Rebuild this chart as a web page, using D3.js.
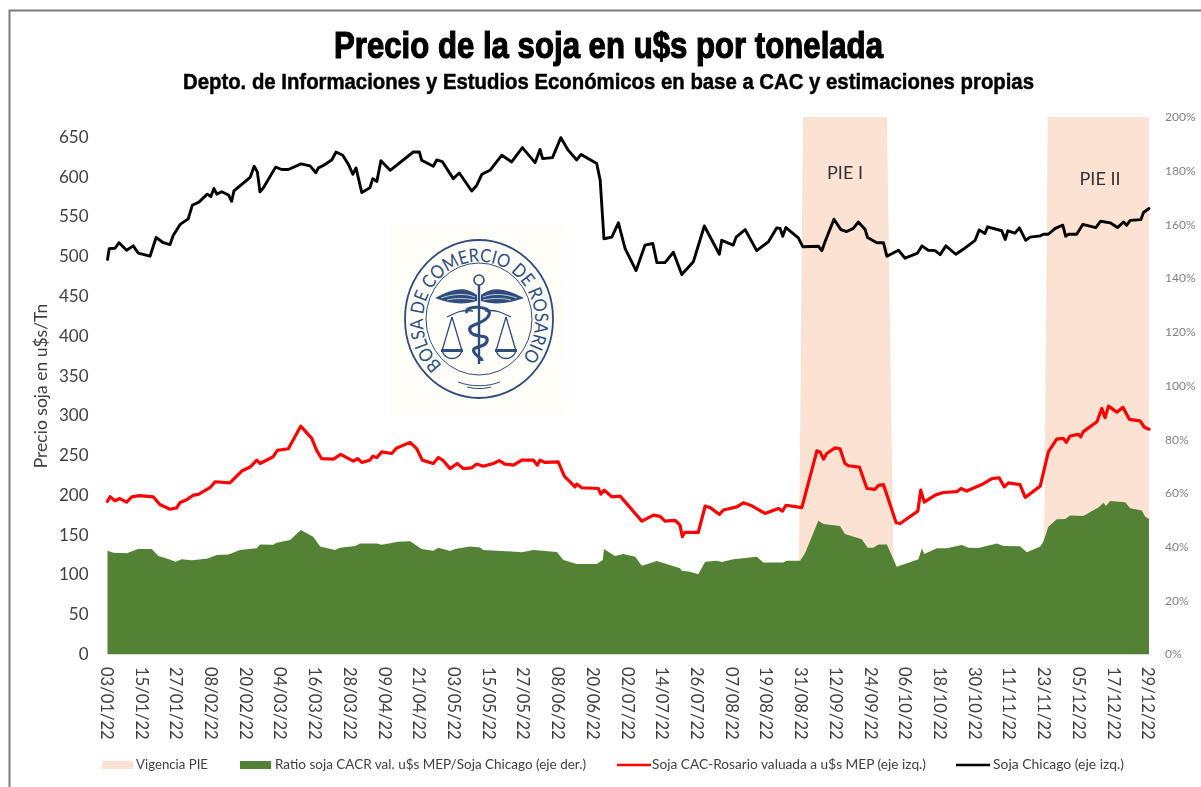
<!DOCTYPE html>
<html lang="es">
<head>
<meta charset="utf-8">
<title>Precio de la soja</title>
<script src="https://cdn.jsdelivr.net/npm/d3@7"></script>
<style>
  html, body { margin: 0; padding: 0; background: #ffffff; }
  svg { display: block; filter: blur(0.45px); }
  text { font-family: Lato, "Open Sans", sans-serif; }
  .titulo { font-family: "Liberation Sans Narrow", "Liberation Sans", sans-serif; font-weight: bold; fill: #000000; stroke: #000000; }
  .eje-izq text, .eje-fecha text { fill: #404040; }
  .eje-der text { fill: #808080; }
  .leyenda text { fill: #404040; font-size: 12.5px; }
</style>
</head>
<body>
<svg id="chart"></svg>
<script>
// etiquetas de los ejes
var fechasEje = ["03/01/22","15/01/22","27/01/22","08/02/22","20/02/22","04/03/22","16/03/22","28/03/22","09/04/22","21/04/22","03/05/22","15/05/22","27/05/22","08/06/22","20/06/22","02/07/22","14/07/22","26/07/22","07/08/22","19/08/22","31/08/22","12/09/22","24/09/22","06/10/22","18/10/22","30/10/22","11/11/22","23/11/22","05/12/22","17/12/22","29/12/22"];
var ticksPrecio = [0,50,100,150,200,250,300,350,400,450,500,550,600,650];
var ticksRatio = [0,20,40,60,80,100,120,140,160,180,200];

// series: dias desde 03/01/22 y valor
var chicagoDias = [0,0.6,2.6,4,6.6,8.9,10.6,14.7,16.8,19.3,21.6,22.7,25.1,27.9,29.3,31.6,34.5,35.7,36.8,37.8,39.5,41.8,42.9,43.7,49.3,50.7,51.8,52.7,53.9,58.1,60.2,62.5,66.9,70,72,72.9,74.6,77.5,79,81.3,83.2,84.8,85.9,87.9,90.7,91.7,93.1,94.5,97.7,105.7,107.8,108.6,112.6,113.8,115.7,119.5,121.6,125.9,127.6,129.4,132.2,136.3,139.7,143.4,147.8,149.5,150.4,153.8,156.7,159.3,162.2,163.7,169.1,170.3,171.6,174.3,176.6,178.9,182.7,185.8,188.5,189.9,192.7,195.6,198.5,202.5,206.3,211.5,212.3,216.3,217.3,220.4,224.4,228.4,231.3,232.5,233.4,234.5,238.8,240.3,245.7,246.9,248,251.1,253.5,255.5,257.8,259.5,261.9,262.7,265.9,268.2,269.4,273.4,275.7,280,281.5,283.7,286.1,287.8,289.8,293.2,295.9,299.9,301.3,303.3,304.2,309.1,310.3,311.2,313.7,315.2,317.4,318.9,322.4,323.5,325.2,327.6,330.2,331.2,332.1,335,337.1,341.6,343.3,346.6,349.1,351.2,352.3,353.5,357.2,358.1,360];
var chicagoValor = [496,509.5,510,517,507.5,513,504,500,523.5,517,514.6,526,540,547,564,568,578,575,585,578,581,577,569,582,599,613,606,581,586,612,609,609,616,613.5,605,611,614,621,631,627,616,603,611,580,586,597.5,594,620,608,631,631,620.6,613,621,619,597.5,604.6,582,589,603,608,627,618.5,636.5,617.7,634,622.7,624,649,633,621,628,616.4,595.5,522,524,542,509.7,482,514,516,492,492,505,477,493,538,502.5,520,514,524,533.5,507,518,535.6,535,525,536,523,512,512.6,507,518,546.5,533.5,531,535,543,533.5,523.5,517,517,500,507.5,497.5,504,513,507.5,507,502,513,502.5,509,520,533,528.6,537,532,521,532,529,535.6,520,524,525.6,527.6,527.6,535,539,525,527.6,527.6,540,536,544,542,536,543,539,545,546,555,560];

var cacDias = [0,0.9,2.6,4.3,6.6,8.4,11.2,15.8,18.1,21.6,23.9,25.1,27.4,29.7,31.4,35.4,37.2,42.3,46.4,49.3,51.6,52.7,57.3,58.7,62.5,66.8,70.6,72.3,74,78.1,80.6,85,86.5,87.9,90.7,91.7,93.1,94.8,98.2,100,104.6,106.9,108.8,112.6,114.4,116.1,118.4,120.9,123,125.9,127.6,129.9,133.4,135.4,137.4,140.3,143.2,147.2,148.6,149.5,151.2,155.8,157.9,161.6,162.2,163.9,169.7,170.5,171.7,174.3,177.2,184.7,188.7,191,192.7,196.2,197.9,198.7,199.6,204.2,206.6,208.3,211.5,212.9,217.5,219.8,222.7,227.3,231.9,233.3,234.5,240,245.2,246.3,247.5,248.6,251.5,253.2,254.9,256.1,259.9,262.5,265.3,266.5,268.2,272.6,274,280.1,281.1,282.3,286.1,288.9,293.6,295,297,302.2,305.7,308.2,310,311.4,315.4,317.2,322.4,325.2,328.1,330.4,331.4,332.7,335.6,336.4,337.3,342,343.7,344.8,346,348.9,351,353.2,356.9,358.4,360];
var cacValor = [192,197.6,192.6,195.4,191,197.6,199,197.6,188,182,183.6,190.5,194,199.7,200.6,209,216.5,215,230,235,243.7,239.5,248,256,258,286.4,271,256,245.6,245,251,242.4,245.6,240.8,243.7,248.7,247,254,252,259,266,258,243.7,239.5,247,243,233,239.5,233,234,238.7,236,239.5,243,238.7,237.4,243.7,243.7,237.4,243.7,240.8,241.6,223.6,210,213.6,209,208,201,206,197.6,198.5,167,174.6,173,167,168,162,147.4,153,153,186,184,175.5,181,185,190,186.3,176.7,183,179.6,187,184,255.4,254,245,252,259,258,239.5,236.6,235,208,207,212,213,165,164,179.6,206,191,199.7,203,204,208,204.8,213,220.5,221.5,210,215,213,196.8,211,254,270,271,266,274,276,273,279.5,292,308.6,297,311.6,304,310,295,293,285,282.6];

var ratioDias = [0,2,6.6,10.6,15.3,17.6,20.5,23.6,25.6,29.1,34.3,37.8,41.8,45.8,51.6,52.7,57.3,58.5,63.1,66.8,71.1,73.5,78.6,80.4,85.6,87.3,93.1,94.8,100.5,104.6,108.6,112.6,114.4,118.4,120.1,125.3,128.8,129.9,136.3,143.2,147.2,155.3,157.6,162.2,169.1,171.2,171.6,175.4,178.3,182.4,184.7,189.9,197.9,198.5,201.4,204.2,206.6,210.6,212.3,216.3,224.4,226.7,233.6,234.8,239.4,241.1,245.7,247.5,253.2,254.9,260.7,262.8,264.7,266.5,269.4,272.8,280.3,281.5,282.3,286.7,290.1,295.3,297.6,301,307.4,309.7,315.4,317.8,322.4,323.5,325.2,328.1,331,332.7,337.3,342.5,344.3,345.1,346.6,351.8,353.5,357.5,358.7,360];
var ratioValor = [38.5,37.7,37.5,39.1,39.1,36.5,35.6,34.4,35.3,34.9,35.5,36.9,37.1,38.7,39.4,40.8,40.7,41.4,42.5,46.2,43.7,40,38.7,39.6,40.2,41.2,41.2,40.7,41.8,42,39.1,38.5,39.6,38.4,39.1,40,39.7,38.7,38.4,37.9,38.7,38,35,33.5,33.5,35,39.1,36.5,37.2,36.2,32.9,34.6,31.9,31,30.6,29.7,34.4,34.7,34.3,35.3,36.2,34.1,34.1,34.7,34.7,37.5,49.6,48.4,47.7,44.7,42.7,39.6,39.6,40.8,40.8,32.5,35.3,39.4,37.2,39.4,39.4,40.6,39.6,39.5,41.2,40.2,40.1,37.9,40,41.8,47.4,50.2,50.3,51.6,51.4,54.6,56.3,55.1,57,56.5,54.3,53.4,51.1,50.3];

// vigencia de los PIE, sobre el eje derecho
var pieDias = [238.7,240.4,269.4,272.2,323.4,325,360,360];
var pieValor = [0,200,200,0,0,200,200,0];
var pieTramos = [[0,4],[4,8]];

var width = 1201, height = 787;
var margin = {top: 117, right: 52, bottom: 133, left: 107.5};

var svg = d3.select("#chart").attr("width", width).attr("height", height);

var parseFecha = d3.timeParse("%d/%m/%y");
var inicio = parseFecha(fechasEje[0]);
function fechaDe(dia) { return new Date(+inicio + dia * 864e5); }

var x = d3.scaleTime()
    .domain([inicio, parseFecha(fechasEje[fechasEje.length - 1])])
    .range([margin.left, width - margin.right]);
var yPrecio = d3.scaleLinear().domain([0, 675]).range([height - margin.bottom, margin.top]);
var yRatio = d3.scaleLinear().domain([0, 200]).range([height - margin.bottom, margin.top]);

// marco de la imagen
svg.append("path")
    .attr("d", "M9.5," + height + "V10.5H" + width)
    .attr("fill", "none").attr("stroke", "#7a7a7a").attr("stroke-width", 2);

// titulos
svg.append("text").attr("class", "titulo")
    .attr("x", 334).attr("y", 58).attr("font-size", 37).attr("stroke-width", 1.2)
    .attr("textLength", 549).attr("lengthAdjust", "spacingAndGlyphs")
    .text("Precio de la soja en u$s por tonelada");
svg.append("text").attr("class", "titulo")
    .attr("x", 183).attr("y", 89).attr("font-size", 22.5).attr("stroke-width", 0.5)
    .attr("textLength", 851).attr("lengthAdjust", "spacingAndGlyphs")
    .text("Depto. de Informaciones y Estudios Económicos en base a CAC y estimaciones propias");

// franjas PIE
var areaPie = d3.area()
    .x(function(d) { return x(fechaDe(d[0])); })
    .y0(yRatio(0))
    .y1(function(d) { return yRatio(d[1]); });
pieTramos.forEach(function(t) {
    var tramo = d3.range(t[0], t[1]).map(function(i) { return [pieDias[i], pieValor[i]]; });
    svg.append("path").attr("d", areaPie(tramo)).attr("fill", "#fbe2d3");
});

// area del ratio
var areaRatio = d3.area()
    .x(function(d) { return x(fechaDe(d)); })
    .y0(yRatio(0))
    .y1(function(d, i) { return yRatio(ratioValor[i]); });
svg.append("path").attr("d", areaRatio(ratioDias)).attr("fill", "#548235");

// lineas
function dibujarLinea(dias, valores, color, grosor) {
    var linea = d3.line()
        .x(function(d) { return x(fechaDe(d)); })
        .y(function(d, i) { return yPrecio(valores[i]); });
    svg.append("path").attr("d", linea(dias))
        .attr("fill", "none").attr("stroke", color).attr("stroke-width", grosor)
        .attr("stroke-linejoin", "round").attr("stroke-linecap", "round");
}
dibujarLinea(cacDias, cacValor, "#ff0000", 3.2);
dibujarLinea(chicagoDias, chicagoValor, "#000000", 2.9);

// ejes
var ejeIzq = svg.append("g").attr("class", "eje-izq")
    .attr("transform", "translate(" + (margin.left - 9) + ",0)")
    .call(d3.axisLeft(yPrecio).tickValues(ticksPrecio).tickSize(0).tickPadding(10));
ejeIzq.select(".domain").remove();
ejeIzq.selectAll("text").style("font-size", "17px");

var ejeDer = svg.append("g").attr("class", "eje-der")
    .attr("transform", "translate(" + (width - margin.right + 6) + ",0)")
    .call(d3.axisRight(yRatio).tickValues(ticksRatio).tickSize(0).tickPadding(10)
        .tickFormat(function(d) { return d + "%"; }));
ejeDer.select(".domain").remove();
ejeDer.selectAll("text").style("font-size", "12px");

var ejeFecha = svg.append("g").attr("class", "eje-fecha")
    .attr("transform", "translate(0," + yPrecio(0) + ")")
    .call(d3.axisBottom(x).tickValues(fechasEje.map(parseFecha)).tickSize(0)
        .tickFormat(d3.timeFormat("%d/%m/%y")));
ejeFecha.select(".domain").attr("stroke", "#d9d9d9");
ejeFecha.selectAll("text")
    .style("font-size", "16.6px")
    .style("text-anchor", "start")
    .attr("dy", null)
    .attr("y", 0)
    .attr("x", 0)
    .attr("dominant-baseline", "middle")
    .attr("transform", "translate(-3,13) rotate(90)");

// titulo eje y
svg.append("text")
    .attr("transform", "translate(47,386) rotate(-90)")
    .style("text-anchor", "middle").style("font-size", "17.5px").attr("fill", "#404040")
    .text("Precio soja en u$s/Tn");

// rotulos PIE
svg.append("text").attr("x", 845).attr("y", 179).style("text-anchor", "middle")
    .style("font-size", "18px").attr("fill", "#333333").text("PIE I");
svg.append("text").attr("x", 1100).attr("y", 185).style("text-anchor", "middle")
    .style("font-size", "18px").attr("fill", "#333333").text("PIE II");

// logo
var azul = "#2f4d7c";
var logo = svg.append("g").attr("transform", "translate(479,319)");
logo.append("rect").attr("x", -89).attr("y", -94).attr("width", 175).attr("height", 190).attr("fill", "#fffdf8");
logo.append("ellipse").attr("rx", 74).attr("ry", 79).attr("fill", "none").attr("stroke", azul).attr("stroke-width", 1.8);
logo.append("ellipse").attr("rx", 53).attr("ry", 56).attr("fill", "none").attr("stroke", azul).attr("stroke-width", 1);
logo.append("path").attr("id", "aroLogo").attr("d", "M-37,46A56,59 0 1 1 37,46").attr("fill", "none");
logo.append("text").attr("fill", azul).style("font-size", "18.5px")
  .append("textPath").attr("href", "#aroLogo")
    .attr("textLength", 270).attr("lengthAdjust", "spacingAndGlyphs")
    .text("BOLSA DE COMERCIO DE ROSARIO");
// alas
logo.append("path").attr("fill", azul)
    .attr("d", "M-2,-24C-14,-34 -28,-30 -44,-21C-30,-15 -14,-14 -2,-18ZM2,-24C14,-34 28,-30 45,-21C30,-15 14,-14 2,-18Z");
logo.append("path").attr("fill", "none").attr("stroke", "#fffdf8").attr("stroke-width", 0.7)
    .attr("d", "M-4,-22C-14,-26 -26,-25 -38,-21M-4,-19C-14,-21 -24,-21 -32,-19M4,-22C14,-26 26,-25 38,-21M4,-19C14,-21 24,-21 32,-19");
// baston y perilla
logo.append("path").attr("fill", "none").attr("stroke", azul).attr("stroke-width", 2.4).attr("d", "M0,-34V45");
logo.append("circle").attr("cy", -39).attr("r", 5).attr("fill", "none").attr("stroke", azul).attr("stroke-width", 1.6);
// balanza y serpiente
logo.append("path").attr("fill", "none").attr("stroke", azul).attr("stroke-width", 1.3)
    .attr("d", "M-32,-2C-24,-6 -16,-10 -6,-8M32,-2C24,-6 16,-10 6,-8M-27,-2L-37,32M-27,-2L-17,32M27,-2L37,32M27,-2L17,32M-37,32C-33,42 -21,42 -17,32M37,32C33,42 21,42 17,32");
logo.append("path").attr("fill", azul).attr("d", "M-38,30H-16V33H-38ZM16,30H38V33H16Z");
logo.append("path").attr("fill", "none").attr("stroke", azul).attr("stroke-width", 3.2)
    .attr("d", "M-12,-6C-16,-14 14,-14 10,-4C6,6 -12,4 -9,12C-6,20 10,14 8,22C6,30 -8,26 -5,33C-3,38 3,38 3,42");
// lineas inferiores
logo.append("path").attr("fill", "none").attr("stroke", azul).attr("stroke-width", 1)
    .attr("d", "M-21,63C-8,68 8,68 21,63M-12,68C-4,70 4,70 12,68");

// leyenda
var leyendaTextos = ["Vigencia PIE","Ratio soja CACR val. u$s MEP/Soja Chicago (eje der.)","Soja CAC-Rosario valuada a u$s MEP (eje izq.)","Soja Chicago (eje izq.)"];
var leyendaColores = ["#fbe2d3","#548235","#ff0000","#000000"];
var leyendaX = [102,240,617,956];
var leyendaTextoX = [136,275,652,993];
var leyendaAncho = [72,311,274,131];
var leyendaY = 765;
var leyenda = svg.append("g").attr("class", "leyenda");
leyendaTextos.forEach(function(t, i) {
    if (i < 2) {
        leyenda.append("rect").attr("x", leyendaX[i]).attr("y", leyendaY - 4)
            .attr("width", 31).attr("height", 8).attr("fill", leyendaColores[i]);
    } else {
        leyenda.append("line").attr("x1", leyendaX[i]).attr("x2", leyendaX[i] + 34)
            .attr("y1", leyendaY).attr("y2", leyendaY)
            .attr("stroke", leyendaColores[i]).attr("stroke-width", 2.6);
    }
    leyenda.append("text").attr("x", leyendaTextoX[i]).attr("y", leyendaY + 4)
        .attr("textLength", leyendaAncho[i]).attr("lengthAdjust", "spacingAndGlyphs").text(t);
});
</script>
</body>
</html>
